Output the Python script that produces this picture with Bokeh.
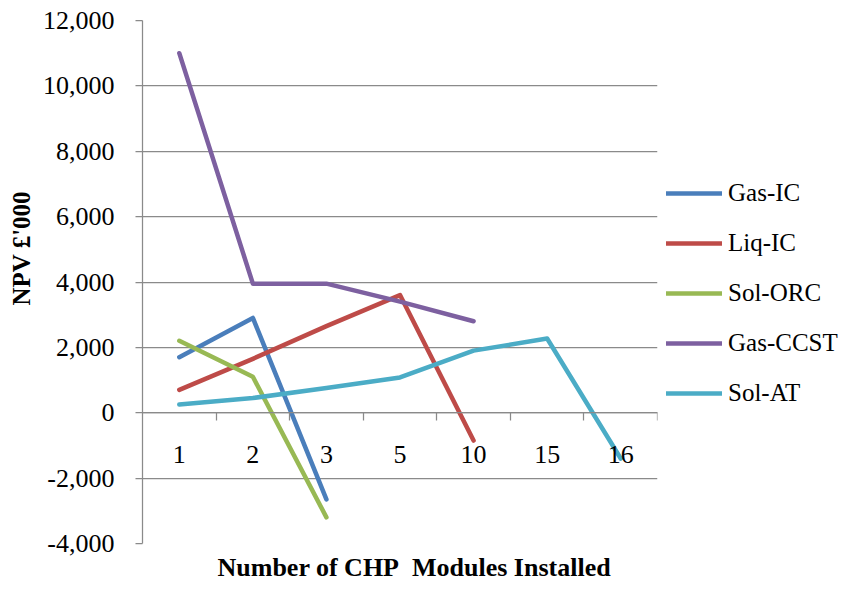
import math
from bokeh.plotting import figure
from bokeh.models import (LinearAxis, FixedTicker, NumeralTickFormatter, Legend,
                          LegendItem, Title, Range1d)
from bokeh.embed import file_html
from bokeh.resources import INLINE

categories = ["1", "2", "3", "5", "10", "15", "16"]
gas_ic = [1700, 2900, -2650]
liq_ic = [700, 1650, 2650, 3600, -850]
sol_orc = [2200, 1100, -3200]
gas_ccst = [11000, 3950, 3950, 3400, 2800]
sol_at = [250, 450, 760, 1080, 1900, 2270, -1400]
y_ticks = [-4000, -2000, 0, 2000, 4000, 6000, 8000, 10000, 12000]

series = [
    ("Gas-IC", gas_ic, "#4A7EBB"),
    ("Liq-IC", liq_ic, "#BE4B48"),
    ("Sol-ORC", sol_orc, "#98B954"),
    ("Gas-CCST", gas_ccst, "#7D60A0"),
    ("Sol-AT", sol_at, "#4BACC6"),
]

FONT = "Liberation Serif"
GRID = "#8a8a8a"

n = len(categories)
centers = [i + 0.5 for i in range(n)]

p = figure(frame_width=515, frame_height=523, output_backend="svg", toolbar_location=None,
           x_range=Range1d(0, n), y_range=Range1d(y_ticks[0], y_ticks[-1]),
           x_axis_location=None, y_axis_location=None,
           min_border_left=142, min_border_right=186, min_border_top=20,
           min_border_bottom=50)
p.outline_line_color = None
p.xgrid.visible = False

# y axis
yax = LinearAxis(ticker=FixedTicker(ticks=y_ticks),
                 formatter=NumeralTickFormatter(format="0,0"))
yax.major_tick_out = 7
yax.major_tick_in = 0
yax.minor_tick_line_color = None
yax.axis_line_color = GRID
yax.axis_line_width = 1.25
yax.major_tick_line_color = GRID
yax.major_tick_line_width = 1.25
yax.major_label_standoff = 21
yax.major_label_text_font = FONT
yax.major_label_text_font_size = "26px"
yax.major_label_text_color = "#000000"
p.add_layout(yax, "left")

p.ygrid.ticker = FixedTicker(ticks=y_ticks)
p.ygrid.grid_line_color = GRID
p.ygrid.grid_line_width = 1.25

# x axis at y = 0 with ticks at category boundaries
xb = LinearAxis(ticker=FixedTicker(ticks=list(range(1, n + 1))), fixed_location=0)
xb.major_tick_out = 8
xb.major_tick_in = 0
xb.minor_tick_line_color = None
xb.axis_line_color = GRID
xb.axis_line_width = 1.25
xb.major_tick_line_color = GRID
xb.major_tick_line_width = 1.25
xb.major_label_text_alpha = 0
xb.major_label_text_font_size = "1px"
p.add_layout(xb, "below")

# category labels
xl = LinearAxis(ticker=FixedTicker(ticks=centers), fixed_location=0,
                major_label_overrides={c: lab for c, lab in zip(centers, categories)})
xl.major_tick_out = 0
xl.major_tick_in = 0
xl.minor_tick_line_color = None
xl.axis_line_alpha = 0
xl.major_tick_line_alpha = 0
xl.major_label_standoff = 33
xl.major_label_text_font = FONT
xl.major_label_text_font_size = "26px"
xl.major_label_text_color = "#000000"
p.add_layout(xl, "below")

items = []
for name, vals, color in series:
    r = p.line(centers[:len(vals)], vals, line_color=color, line_width=4.5,
               line_cap="round", line_join="round")
    items.append(LegendItem(label=name, renderers=[r]))

legend = Legend(items=items, location=(9, 135), border_line_color=None,
                background_fill_alpha=0, padding=5, margin=0,
                glyph_width=56, glyph_height=30, label_height=30, spacing=20,
                label_standoff=6, label_text_font=FONT,
                label_text_font_size="25px", label_text_color="#000000")
p.add_layout(legend, "right")

# axis titles
p.add_layout(Title(text="NPV £'000", align="left", offset=238,
                   text_font=FONT, text_font_style="bold", text_font_size="25px",
                   text_color="#000000"), "left")
p.add_layout(Title(text="Number of CHP\u00a0 Modules Installed", align="left", offset=75,
                   standoff=15,
                   text_font=FONT, text_font_style="bold", text_font_size="26px",
                   text_color="#000000"), "below")

open("out.html", "w").write(file_html(p, INLINE))
